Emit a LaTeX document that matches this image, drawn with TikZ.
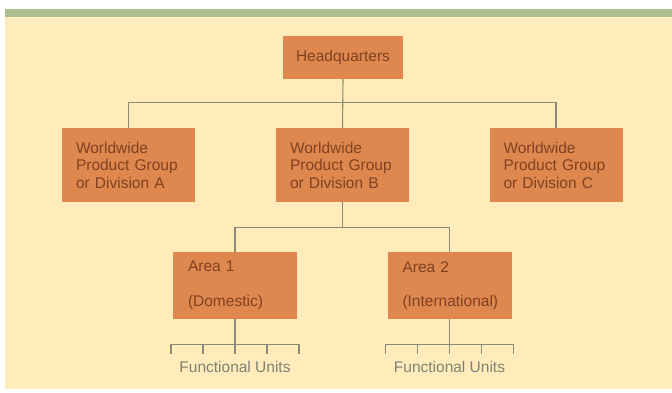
\documentclass[tikz,border=0pt]{standalone}
\usepackage{fontspec}
\setmainfont{Liberation Sans}
\usetikzlibrary{positioning}

\definecolor{bgbeige}{RGB}{255,236,186}
\definecolor{bandgreen}{RGB}{170,190,142}
\definecolor{boxorange}{RGB}{222,135,78}
\definecolor{inkbrown}{RGB}{128,66,34}
\definecolor{linkgray}{RGB}{140,140,118}
\definecolor{labelgray}{RGB}{130,128,118}

\begin{document}
\begin{tikzpicture}[
  x=1pt, y=-1pt,
  unit/.style={fill=boxorange, text=inkbrown, inner sep=0pt,
    font=\fontsize{15.5}{17.5}\selectfont},
  division/.style={unit, minimum width=133pt, minimum height=74pt,
    text width=105pt, align=left},
  area/.style={unit, minimum width=124pt, minimum height=67pt,
    text width=94pt, align=left},
  link/.style={linkgray, line width=1.1pt},
  unitlabel/.style={text=labelgray, inner sep=0pt,
    font=\fontsize{15.5}{17.5}\selectfont}
]
  % backdrop
  \fill[white] (0,0) rectangle (672,392);
  \fill[bandgreen] (5,9) rectangle (672,17);
  \fill[bgbeige] (5,17) rectangle (672,389);

  \node[unit, minimum width=120pt, minimum height=43pt,
    font=\fontsize{15.5}{17}\selectfont] (hq) at (343,57.5) {Headquarters};

  \node[division] (divA) at (128.5,165) {Worldwide\\Product Group\\or Division A};
  \node[division] (divB) at (342.5,165) {Worldwide\\Product Group\\or Division B};
  \node[division] (divC) at (556,165) {Worldwide\\Product Group\\or Division C};

  \node[area] (areaA) at (235,285.5) {Area 1\\[17pt](Domestic)};
  \node[area] (areaB) at (449.5,285.5) {Area 2\\[17pt](International)};

  \draw[link] (hq.south) -- (divB.north);
  \draw[link] (divA.north) -- ++(0,-25) -| (divC.north);
  \draw[link] (areaA.north) -- ++(0,-24) -| (areaB.north);
  \draw[link] (divB.south) -- ([yshift=24pt]divB.south |- areaA.north);

  % functional units under each area
  \foreach \a in {areaA,areaB} {
    \draw[link] (\a.south) -- ++(0,25) coordinate (\a-fork);
    \draw[link] ([xshift=-64pt]\a-fork) -- ([xshift=64pt]\a-fork);
    \foreach \dx in {-64,-32,0,32,64}
      \draw[link] ([xshift=\dx pt]\a-fork) -- ++(0,10);
    \node[unitlabel] (\a-units) at ([yshift=-23pt]\a-fork) {Functional Units};
  }
\end{tikzpicture}
\end{document}
